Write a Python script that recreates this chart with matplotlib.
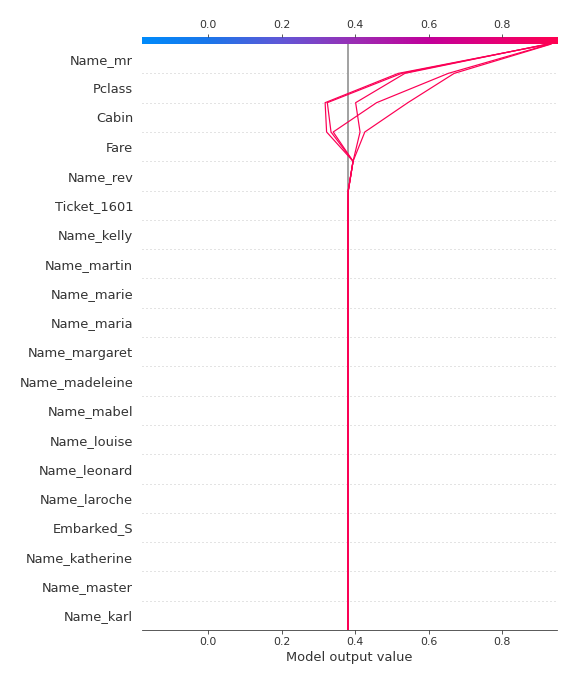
import numpy as np
import matplotlib
matplotlib.use("Agg")
import matplotlib.pyplot as plt
from matplotlib.colors import LinearSegmentedColormap

# ---------------- data ----------------
features = ["Name_mr", "Pclass", "Cabin", "Fare", "Name_rev", "Ticket_1601",
            "Name_kelly", "Name_martin", "Name_marie", "Name_maria",
            "Name_margaret", "Name_madeleine", "Name_mabel", "Name_louise",
            "Name_leonard", "Name_laroche", "Embarked_S", "Name_katherine",
            "Name_master", "Name_karl"]  # top -> bottom

base_value = 0.380

# SHAP contributions per observation, same order as features (top -> bottom)
obs1 = [0.411, 0.199, -0.004, -0.072, 0.013, 0.001, 0, 0, 0, 0, 0, 0, 0, 0, 0, 0, 0, 0, 0, 0]
obs2 = [0.399, 0.202, -0.010, -0.060, 0.013, 0.001, 0, 0, 0, 0, 0, 0, 0, 0, 0, 0, 0, 0, 0, 0]
obs3 = [0.387, 0.134, -0.012, 0.019, 0.013, 0.001, 0, 0, 0, 0, 0, 0, 0, 0, 0, 0, 0, 0, 0, 0]
obs4 = [0.277, 0.195, 0.118, -0.054, 0.013, 0.001, 0, 0, 0, 0, 0, 0, 0, 0, 0, 0, 0, 0, 0, 0]
obs5 = [0.264, 0.126, 0.117, 0.032, 0.013, 0.001, 0, 0, 0, 0, 0, 0, 0, 0, 0, 0, 0, 0, 0, 0]
observations = [obs1, obs2, obs3, obs4, obs5]

x_ticks = [0.0, 0.2, 0.4, 0.6, 0.8]
xlim = (-0.181, 0.948)

# ---------------- style ----------------
axis_color = "#333333"
cmap = LinearSegmentedColormap.from_list(
    "red_blue",
    [(0.0, "#008bfb"), (0.16, "#1b76ea"), (0.34, "#6356d6"), (0.51, "#9a2eb4"),
     (0.69, "#c2009a"), (0.86, "#e60074"), (1.0, "#ff0051")])

n = len(features)
bar_h = 0.23

fig = plt.figure(figsize=(8, 9.5), dpi=72)
ax = fig.add_axes([0.246, 0.0789, 0.7205, 0.8665])

# dotted row separators
for i in range(1, n):
    ax.axhline(i, color="#c8c8c8", lw=1.0, dashes=(1, 3), zorder=0)

# base value line
ax.plot([base_value, base_value], [0, n], color="#999999", lw=1.8, zorder=1)

# decision lines
y_pos = np.arange(0, n + 1)
for obs in observations:
    contrib_bottom_up = np.array(obs[::-1], dtype=float)
    path = np.concatenate([[base_value], base_value + np.cumsum(contrib_bottom_up)])
    frac = (path[-1] - xlim[0]) / (xlim[1] - xlim[0])
    ax.plot(path, y_pos, color=cmap(frac), lw=1.2, zorder=3)

ax.set_xlim(xlim)
ax.set_ylim(0, n + bar_h)
ax.set_yticks(np.arange(n) + 0.5)
ax.set_yticklabels(features[::-1], fontsize=13)
ax.set_xticks(x_ticks)
ax.set_xticklabels([f"{t:.1f}" for t in x_ticks])
ax.tick_params(axis="y", length=0, colors=axis_color, labelsize=13, pad=8.5)
ax.tick_params(axis="x", color=axis_color, labelcolor=axis_color, labelsize=11)
for s in ["left", "right", "top"]:
    ax.spines[s].set_visible(False)
ax.spines["bottom"].set_color(axis_color)
ax.set_xlabel("Model output value", fontsize=13, color=axis_color)

# colorbar at the top
ax_cb = ax.inset_axes([xlim[0], n, xlim[1] - xlim[0], bar_h], transform=ax.transData)
grad = np.linspace(0, 1, 512).reshape(1, -1)
ax_cb.imshow(grad, cmap=cmap, aspect="auto", extent=[0, 1, 0, 1])
ax_cb.set_axis_off()

# top axis
ax2 = ax.twiny()
ax2.set_xlim(xlim)
ax2.set_xticks(x_ticks)
ax2.set_xticklabels([f"{t:.1f}" for t in x_ticks])
ax2.tick_params(axis="x", color=axis_color, labelcolor=axis_color, labelsize=11, length=3.5)
for s in ["left", "right", "top", "bottom"]:
    ax2.spines[s].set_visible(False)

fig.savefig("out.png", dpi=72)
